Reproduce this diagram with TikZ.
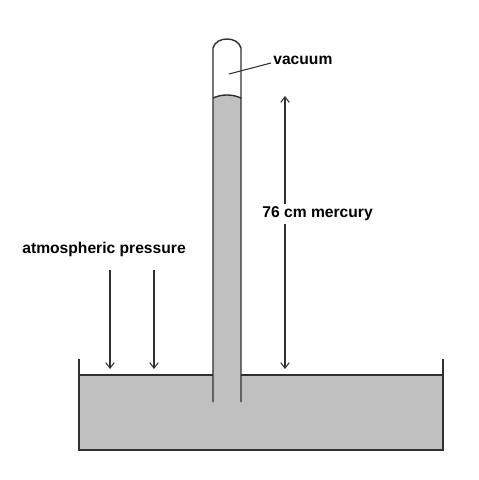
\documentclass[tikz,border=0pt]{standalone}
\usepackage{fontspec}
\setmainfont{Liberation Sans}
\usetikzlibrary{arrows.meta,positioning,calc}
\definecolor{MercuryGray}{HTML}{C0C0C0}
\definecolor{LineDark}{HTML}{303030}
\tikzset{
  wall/.style={draw=LineDark, line width=0.8pt},
  mercury/.style={fill=MercuryGray, draw=none},
  arrow/.style={-{Straight Barb[length=1.1mm,width=1.7mm]}, line width=0.6pt, LineDark},
  leader/.style={line width=0.6pt, LineDark},
  label/.style={font=\fontsize{8.9pt}{10pt}\selectfont\bfseries\color{black}, inner sep=0pt},
}
\begin{document}
\begin{tikzpicture}[x=0.02cm,y=-0.02cm]
  \useasboundingbox (0,0) rectangle (479,480);
  \fill[white] (0,0) rectangle (479,480);

  % mercury in the tank and in the tube
  \fill[mercury] (79,375) rectangle (443,450);
  \fill[mercury] (213,98) .. controls (222,94) and (232,94) .. (241,98) -- (241,375) -- (213,375) -- cycle;

  % tank
  \draw[wall] (79,359) -- (79,450) -- (443,450) -- (443,359);
  \draw[wall] (79,375) -- (213,375);
  \draw[wall] (241,375) -- (443,375);

  % tube
  \draw[wall] (213,402) -- (213,48) .. controls (216,36) and (238,36) .. (241,48) -- (241,402);
  \draw[wall] (213,98) .. controls (222,94) and (232,94) .. (241,98);

  % labels
  \node[label, anchor=west] (vacuum) at (273,60) {vacuum};
  \node[label, anchor=west, fill=white, inner ysep=1.5pt] (height) at (262,214) {76 cm mercury};
  \node[label, anchor=west] (atm) at (22,249.5) {atmospheric pressure};

  \coordinate (vacuumend) at (229,74);
  \coordinate (atmtopa) at (110,270);
  \coordinate (atmtopb) at (154,270);
  \coordinate (atmenda) at (110,369);
  \coordinate (atmendb) at (154,369);
  \coordinate (hgtop) at (285,96);
  \coordinate (hgbottom) at (285,369);

  \draw[leader] (vacuum.west) ++(-2,3) -- (vacuumend);
  \draw[arrow] (atmtopa) -- (atmenda);
  \draw[arrow] (atmtopb) -- (atmendb);
  \draw[arrow] (hgtop |- height.north) -- (hgtop);
  \draw[arrow] (hgbottom |- height.south) -- (hgbottom);
\end{tikzpicture}
\end{document}
